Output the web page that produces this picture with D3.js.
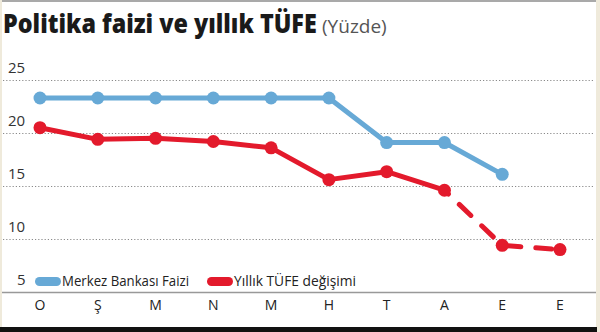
<!DOCTYPE html>
<html>
<head>
<meta charset="utf-8">
<script src="https://cdn.jsdelivr.net/npm/d3@7"></script>
<style>
  body { margin: 0; background: #fff; }
  svg { display: block; font-family: "Open Sans", sans-serif; }
</style>
</head>
<body>
<div id="chart"></div>
<script>
{
// months (Ocak .. Ekim)
const months = ["O", "Ş", "M", "N", "M", "H", "T", "A", "E", "E"];
const policyRate = [23.3, 23.3, 23.3, 23.3, 23.3, 23.3, 19.1, 19.1, 16.1];
const cpi = [20.5, 19.4, 19.5, 19.2, 18.6, 15.6, 16.35, 14.6, 9.4, 9.0];
const solidUpTo = 7; // red line is dashed after A
const yTicks = [5, 10, 15, 20, 25];
const legendLabels = ["Merkez Bankası Faizi", "Yıllık TÜFE değişimi"];

const w = 600, h = 332;
const blue = "#67a9d6", red = "#e31a2c";

const svg = d3.select("#chart").append("svg")
    .attr("width", w)
    .attr("height", h);

// frame bits
svg.append("rect").attr("x", 0).attr("y", 0).attr("width", w).attr("height", 2).attr("fill", "#a9a9a9");
svg.append("rect").attr("x", 0).attr("y", 0).attr("width", 2).attr("height", h).attr("fill", "#efeadb");
svg.append("rect").attr("x", 596).attr("y", 0).attr("width", 4).attr("height", h).attr("fill", "#efeadb");
svg.append("rect").attr("x", 0).attr("y", 327).attr("width", 597).attr("height", 5).attr("fill", "#111");

// title - squeezed horizontally to the width of the original
function squeezedText(txt, xPos, yPos, size, weight, fill, width) {
    const t = svg.append("text")
        .attr("font-size", size)
        .attr("font-weight", weight)
        .attr("fill", fill)
        .text(txt);
    const natural = t.node().getComputedTextLength();
    const k = Math.min(1, width / natural);
    t.attr("transform", `translate(${xPos},${yPos}) scale(${k},1)`);
    return t;
}
squeezedText("Politika faizi ve yıllık TÜFE", 3, 33, 26, 800, "#1a1a1a", 314);
squeezedText("(Yüzde)", 322, 33, 19, 400, "#555", 65);

const x = d3.scaleLinear().domain([0, months.length - 1]).range([40, 560]);
const y = d3.scaleLinear().domain([5, 25]).range([292, 80]);

// gridlines
svg.selectAll(".grid")
    .data(yTicks.filter(d => d > 5))
    .enter().append("line")
    .attr("x1", 3).attr("x2", 593)
    .attr("y1", d => y(d) + 0.5).attr("y2", d => y(d) + 0.5)
    .attr("stroke", "#8a8a8a")
    .attr("stroke-width", 1.2)
    .attr("stroke-dasharray", "1.2,2");

// baseline
svg.append("line")
    .attr("x1", 2).attr("x2", 596)
    .attr("y1", y(5) + 0.5).attr("y2", y(5) + 0.5)
    .attr("stroke", "#999")
    .attr("stroke-width", 1.5);

// y tick labels
svg.selectAll(".ylab")
    .data(yTicks)
    .enter().append("text")
    .attr("x", d => d < 10 ? 17 : 8)
    .attr("y", d => y(d) - 7)
    .attr("font-size", 15)
    .attr("fill", "#333")
    .text(d => d);

// x labels
svg.selectAll(".xlab")
    .data(months)
    .enter().append("text")
    .attr("x", (d, i) => x(i))
    .attr("y", 310)
    .attr("text-anchor", "middle")
    .attr("font-size", 14)
    .attr("fill", "#222")
    .text(d => d);

// legend
const legendX = [35, 207];
const legendW = [127, 122];
const legendColors = [blue, red];
legendLabels.forEach(function(lbl, i) {
    svg.append("rect")
        .attr("x", legendX[i]).attr("y", 277)
        .attr("width", 26).attr("height", 9)
        .attr("rx", 4.5)
        .attr("fill", legendColors[i]);
    svg.append("text")
        .attr("x", legendX[i] + 27)
        .attr("y", 286)
        .attr("font-size", 14.5)
        .attr("fill", "#222")
        .attr("textLength", legendW[i])
        .attr("lengthAdjust", "spacingAndGlyphs")
        .text(lbl);
});

const line = d3.line()
    .x(d => x(d.i))
    .y(d => y(d.v));

const blueData = policyRate.map((v, i) => ({i: i, v: v}));
const redData = cpi.map((v, i) => ({i: i, v: v}));

svg.append("path")
    .datum(blueData)
    .attr("d", line)
    .attr("fill", "none")
    .attr("stroke", blue)
    .attr("stroke-width", 5)
    .attr("stroke-linejoin", "round");

svg.append("path")
    .datum(redData.slice(0, solidUpTo + 1))
    .attr("d", line)
    .attr("fill", "none")
    .attr("stroke", red)
    .attr("stroke-width", 5)
    .attr("stroke-linejoin", "round");

svg.append("path")
    .datum(redData.slice(solidUpTo))
    .attr("d", line)
    .attr("fill", "none")
    .attr("stroke", red)
    .attr("stroke-width", 5)
    .attr("stroke-linecap", "round")
    .attr("stroke-dasharray", "16,15")
    .attr("stroke-dashoffset", 10.5);

svg.selectAll(".bdot")
    .data(blueData)
    .enter().append("circle")
    .attr("cx", d => x(d.i)).attr("cy", d => y(d.v))
    .attr("r", 6.5)
    .attr("fill", blue);

svg.selectAll(".rdot")
    .data(redData)
    .enter().append("circle")
    .attr("cx", d => x(d.i)).attr("cy", d => y(d.v))
    .attr("r", 6.5)
    .attr("fill", red);
}
</script>
</body>
</html>
